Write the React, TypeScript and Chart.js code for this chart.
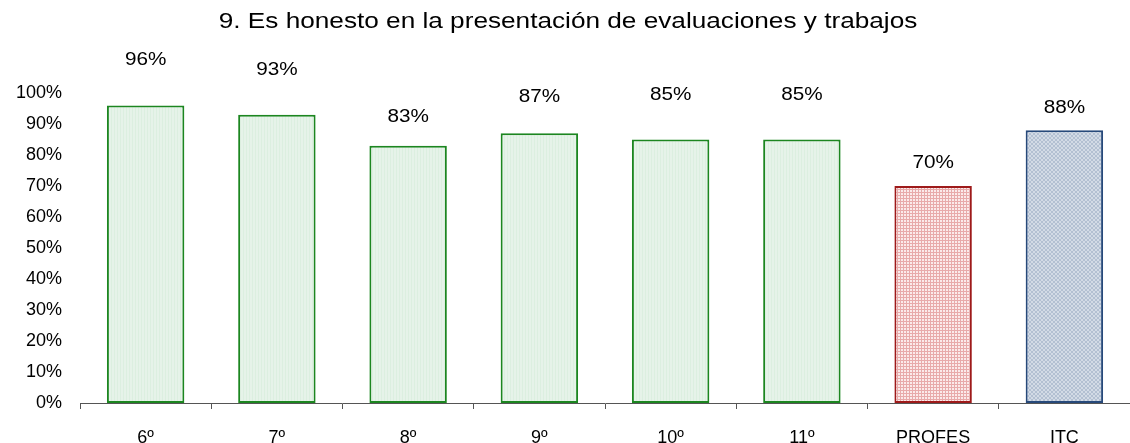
import React, { useEffect, useRef } from "react";
import { Chart, registerables } from "chart.js";

Chart.register(...registerables);

const title = "9. Es honesto en la presentación de evaluaciones y trabajos";
const categories = ["6º", "7º", "8º", "9º", "10º", "11º", "PROFES", "ITC"];
const values = [96, 93, 83, 87, 85, 85, 70, 88];
const valueLabels = ["96%", "93%", "83%", "87%", "85%", "85%", "70%", "88%"];
const labelLift = [45, 45, 29, 36, 44, 44, 23, 22];
const barKinds = ["g", "g", "g", "g", "g", "g", "r", "b"];

const FONT = "'Liberation Sans', Arial, Helvetica, sans-serif";

function makePattern(ctx: CanvasRenderingContext2D, kind: string): CanvasPattern | string {
  const c = document.createElement("canvas");
  const x = c.getContext("2d");
  if (!x) return "#e4f2e7";
  if (kind === "g") {
    c.width = 3; c.height = 3;
    x.fillStyle = "#e6f3e9"; x.fillRect(0, 0, 3, 3);
    x.fillStyle = "#dcefe0"; x.fillRect(0, 0, 1, 3);
  } else if (kind === "r") {
    c.width = 3; c.height = 3;
    x.fillStyle = "#e8aaaa"; x.fillRect(0, 0, 3, 3);
    x.fillStyle = "#fbeaea"; x.fillRect(1, 1, 2, 2);
  } else {
    c.width = 4; c.height = 4;
    x.fillStyle = "#d3dbe6"; x.fillRect(0, 0, 4, 4);
    x.fillStyle = "#b3c0d2";
    for (let i = 0; i < 4; i++) { x.fillRect(i, i, 1, 1); x.fillRect(3 - i, i, 1, 1); }
  }
  return ctx.createPattern(c, "repeat") || "#e4f2e7";
}

const borderFor: Record<string, string> = { g: "#1c8620", r: "#9e1a1a", b: "#27497a" };

const labelPlugin = {
  id: "valueLabels",
  afterDatasetsDraw(chart: any) {
    const ctx = chart.ctx;
    const meta = chart.getDatasetMeta(0);
    ctx.save();
    ctx.font = `18px ${FONT}`;
    ctx.fillStyle = "#000";
    ctx.textAlign = "center";
    ctx.textBaseline = "middle";
    meta.data.forEach((el: any, i: number) => {
      ctx.save();
      ctx.translate(el.x, el.y - labelLift[i]);
      ctx.scale(1.15, 1);
      ctx.fillText(valueLabels[i], 0, 0);
      ctx.restore();
    });
    ctx.restore();
  },
};

const titlePlugin = {
  id: "stretchedTitle",
  afterDraw(chart: any) {
    const ctx = chart.ctx;
    ctx.save();
    ctx.font = `22px ${FONT}`;
    ctx.fillStyle = "#000";
    ctx.textAlign = "center";
    ctx.textBaseline = "middle";
    ctx.translate(chart.width / 2 + 3, 22);
    ctx.scale(1.19, 1);
    ctx.fillText(title, 0, 0);
    ctx.restore();
  },
};

export default function App() {
  const ref = useRef<HTMLCanvasElement | null>(null);
  useEffect(() => {
    const canvas = ref.current;
    if (!canvas) return;
    const ctx = canvas.getContext("2d")!;
    Chart.defaults.font.family = FONT;
    const fills = barKinds.map((k) => makePattern(ctx, k));
    const borders = barKinds.map((k) => borderFor[k]);
    const chart = new Chart(canvas, {
      type: "bar",
      data: {
        labels: categories,
        datasets: [
          {
            data: values,
            backgroundColor: fills as any,
            borderColor: borders,
            borderWidth: 2,
            borderSkipped: false,
            barPercentage: 0.59,
            categoryPercentage: 1,
          },
        ],
      },
      options: {
        responsive: false,
        animation: false,
        devicePixelRatio: 1,
        layout: { padding: { top: 93, left: 0, right: 0, bottom: 0 } },
        plugins: {
          legend: { display: false },
          tooltip: { enabled: false },
          title: { display: false },
        },
        scales: {
          x: {
            offset: true,
            grid: {
              display: true,
              drawOnChartArea: false,
              drawTicks: true,
              tickLength: 6,
              color: "#555",
              offset: true,
            },
            border: { display: true, color: "#555", width: 1 },
            ticks: { color: "#000", font: { size: 18, family: FONT }, padding: 18, maxRotation: 0, autoSkip: false },
            afterFit: (s: any) => { s.height = 40; },
          },
          y: {
            min: 0,
            max: 100,
            grid: { display: false, drawTicks: false },
            border: { display: false },
            ticks: {
              stepSize: 10,
              color: "#000",
              font: { size: 18, family: FONT },
              padding: 18,
              callback: (v: any) => `${v}%`,
            },
            afterFit: (s: any) => { s.width = 80; },
          },
        },
      },
      plugins: [labelPlugin, titlePlugin],
    });
    return () => chart.destroy();
  }, []);
  return (
    <div style={{ position: "absolute", left: 0, top: 0, width: 1130, height: 443, background: "#fff" }}>
      <canvas ref={ref} width={1130} height={443} style={{ display: "block", width: 1130, height: 443 }} />
    </div>
  );
}
